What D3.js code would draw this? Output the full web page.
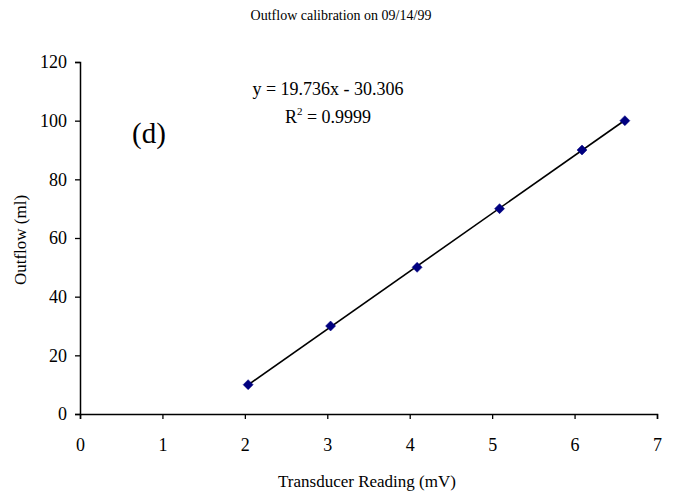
<!DOCTYPE html>
<html><head><meta charset="utf-8">
<script src="https://cdn.jsdelivr.net/npm/d3@7"></script>
<style>body{margin:0;background:#fff}svg{display:block}text{font-family:"Liberation Serif","Times New Roman",serif;fill:#000}</style>
</head><body>
<script>
const readings = [2.04, 3.04, 4.09, 5.09, 6.09, 6.61];
const outflow = [10, 30, 50, 70, 90, 100];
const slope = 19.736, intercept = -30.306;
const xTicks = [0,1,2,3,4,5,6,7];
const yTicks = [0,20,40,60,80,100,120];
const title = "Outflow calibration on 09/14/99";
const xTitle = "Transducer Reading (mV)";
const yTitle = "Outflow (ml)";

const W=689,H=497;
const svg=d3.select("body").append("svg").attr("width",W).attr("height",H);
const x=d3.scaleLinear().domain([0,7]).range([80,657]);
const y=d3.scaleLinear().domain([0,120]).range([414,62]);

svg.append("text").attr("x",341).attr("y",20).attr("text-anchor","middle").style("font-size","14px").text(title);

const xa=svg.append("g").attr("transform","translate(0,414)").call(d3.axisBottom(x).tickValues(xTicks).tickSize(5).tickPadding(19).tickFormat(d3.format("d")));
const ya=svg.append("g").attr("transform","translate(80,0)").call(d3.axisLeft(y).tickValues(yTicks).tickSize(5).tickPadding(8).tickFormat(d3.format("d")));
[xa,ya].forEach(a=>{a.attr("font-family","Liberation Serif").attr("font-size",18);a.select(".domain").attr("stroke","#000").attr("stroke-width",1.5);a.selectAll(".tick line").attr("stroke","#000").attr("stroke-width",1.3);a.selectAll("text").attr("font-family","Liberation Serif").style("font-family","Liberation Serif").style("font-size","18px").attr("fill","#000");});

svg.append("text").attr("x",367).attr("y",487).attr("text-anchor","middle").style("font-size","17px").text(xTitle);
svg.append("text").attr("transform","translate(26,240) rotate(-90)").attr("text-anchor","middle").style("font-size","17px").text(yTitle);

const x0=d3.min(readings), x1=d3.max(readings);
svg.append("line").attr("x1",x(x0)).attr("y1",y(slope*x0+intercept)).attr("x2",x(x1)).attr("y2",y(slope*x1+intercept)).attr("stroke","#000").attr("stroke-width",1.6);

svg.selectAll(".pt").data(readings).enter().append("path")
 .attr("d",d3.symbol(d3.symbolSquare,50))
 .attr("transform",(d,i)=>`translate(${x(d)},${y(outflow[i])}) rotate(45)`)
 .attr("fill","#000080").attr("stroke","#000080").attr("stroke-width",0.5);

svg.append("text").attr("x",328).attr("y",95).attr("text-anchor","middle").style("font-size","18px").text("y = 19.736x - 30.306");
const r=svg.append("text").attr("x",328).attr("y",123).attr("text-anchor","middle").style("font-size","18px");
r.append("tspan").text("R");
r.append("tspan").attr("dy",-8).style("font-size","11px").text("2");
r.append("tspan").attr("dy",8).text(" = 0.9999");

svg.append("text").attr("x",149).attr("y",143).attr("text-anchor","middle").style("font-size","29px").text("(d)");
</script>
</body></html>
